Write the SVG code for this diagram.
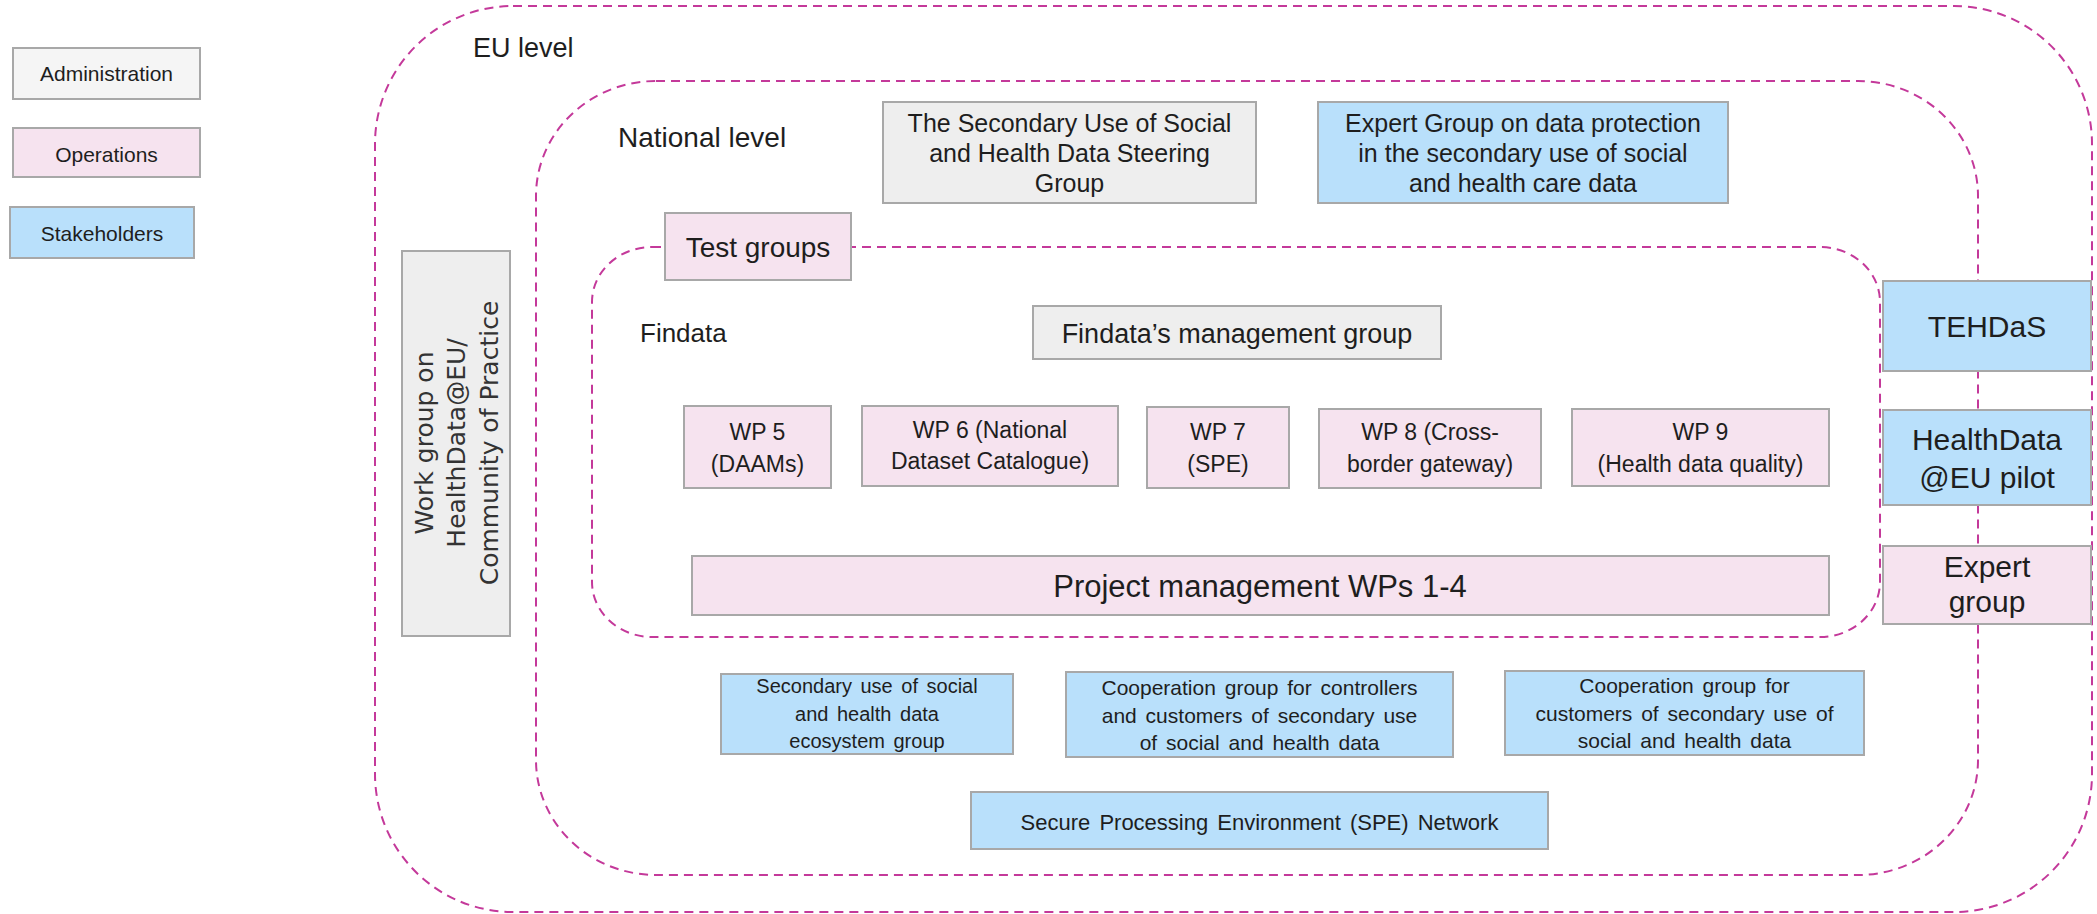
<svg xmlns="http://www.w3.org/2000/svg" width="2097" height="914" viewBox="0 0 2097 914">
<style>
.c{fill:none;stroke:#c4399a;stroke-width:2;stroke-dasharray:9 6}
.b{stroke:#a8a8a8;stroke-width:2}
.adm{fill:#f5f5f5}
.gr{fill:#eeeeee}
.op{fill:#f6e3ef}
.st{fill:#b9e0fb}
text{font-family:"Liberation Sans",Arial,sans-serif;fill:#1e1e1e}
.m{text-anchor:middle}
.v{font-family:"DejaVu Sans",Verdana,sans-serif;fill:#333}
</style>
<rect width="2097" height="914" fill="#ffffff"/>
<g id="containers">
<rect id="eu-level" class="c" x="375" y="6" width="1717" height="906" rx="138" ry="138"/>
<rect id="national-level" class="c" x="536" y="81" width="1442" height="794" rx="120" ry="115"/>
<rect id="findata" class="c" x="592" y="247" width="1288" height="390" rx="60" ry="55"/>
</g>
<g id="labels">
<text x="473" y="57" font-size="27">EU level</text>
<text x="618" y="147" font-size="28">National level</text>
<text x="640" y="342" font-size="26">Findata</text>
</g>
<g id="legend-administration"><rect class="b adm" x="13" y="48" width="187" height="51"/><text class="m" x="106.5" y="81" font-size="21">Administration</text></g>
<g id="legend-operations"><rect class="b op" x="13" y="128" width="187" height="49"/><text class="m" x="106.5" y="162" font-size="21">Operations</text></g>
<g id="legend-stakeholders"><rect class="b st" x="10" y="207" width="184" height="51"/><text class="m" x="102" y="241" font-size="21">Stakeholders</text></g>
<g id="work-group"><rect class="b gr" x="402" y="251" width="108" height="385"/>
<text class="v m" transform="translate(433,443) rotate(-90)" font-size="25"><tspan x="0" y="0">Work group on</tspan><tspan x="0" y="32">HealthData@EU/</tspan><tspan x="0" y="65">Community of Practice</tspan></text></g>
<g id="steering-group"><rect class="b gr" x="883" y="102" width="373" height="101"/>
<text class="m" font-size="25"><tspan x="1069.5" y="132">The Secondary Use of Social</tspan><tspan x="1069.5" y="162">and Health Data Steering</tspan><tspan x="1069.5" y="192">Group</tspan></text></g>
<g id="expert-group-data-protection"><rect class="b st" x="1318" y="102" width="410" height="101"/>
<text class="m" font-size="25"><tspan x="1523" y="132">Expert Group on data protection</tspan><tspan x="1523" y="162">in the secondary use of social</tspan><tspan x="1523" y="192">and health care data</tspan></text></g>
<g id="test-groups"><rect class="b op" x="665" y="213" width="186" height="67"/><text class="m" x="758" y="257" font-size="28">Test groups</text></g>
<g id="findata-management"><rect class="b gr" x="1033" y="306" width="408" height="53"/><text class="m" x="1237" y="343" font-size="27">Findata’s management group</text></g>
<g id="wp5"><rect class="b op" x="684" y="406" width="147" height="82"/><text class="m" font-size="23"><tspan x="757.5" y="440">WP 5</tspan><tspan x="757.5" y="472">(DAAMs)</tspan></text></g>
<g id="wp6"><rect class="b op" x="862" y="406" width="256" height="80"/><text class="m" font-size="23"><tspan x="990" y="438">WP 6 (National</tspan><tspan x="990" y="469">Dataset Catalogue)</tspan></text></g>
<g id="wp7"><rect class="b op" x="1147" y="407" width="142" height="81"/><text class="m" font-size="23"><tspan x="1218" y="440">WP 7</tspan><tspan x="1218" y="472">(SPE)</tspan></text></g>
<g id="wp8"><rect class="b op" x="1319" y="409" width="222" height="79"/><text class="m" font-size="23"><tspan x="1430" y="440">WP 8 (Cross-</tspan><tspan x="1430" y="472">border gateway)</tspan></text></g>
<g id="wp9"><rect class="b op" x="1572" y="409" width="257" height="77"/><text class="m" font-size="23"><tspan x="1700.5" y="440">WP 9</tspan><tspan x="1700.5" y="472">(Health data quality)</tspan></text></g>
<g id="project-management"><rect class="b op" x="692" y="556" width="1137" height="59"/><text class="m" x="1260" y="597" font-size="31">Project management WPs 1-4</text></g>
<g id="tehdas"><rect class="b st" x="1883" y="281" width="208" height="90"/><text class="m" x="1987" y="337" font-size="30">TEHDaS</text></g>
<g id="healthdata-pilot"><rect class="b st" x="1883" y="410" width="208" height="95"/><text class="m" font-size="30"><tspan x="1987" y="450">HealthData</tspan><tspan x="1987" y="488">@EU pilot</tspan></text></g>
<g id="expert-group"><rect class="b op" x="1883" y="546" width="208" height="78"/><text class="m" font-size="30"><tspan x="1987" y="577">Expert</tspan><tspan x="1987" y="612">group</tspan></text></g>
<g id="ecosystem-group"><rect class="b st" x="721" y="674" width="292" height="80"/><text class="m" font-size="20" word-spacing="3"><tspan x="867" y="693">Secondary use of social</tspan><tspan x="867" y="721">and health data</tspan><tspan x="867" y="748">ecosystem group</tspan></text></g>
<g id="controllers-group"><rect class="b st" x="1066" y="672" width="387" height="85"/><text class="m" font-size="21" word-spacing="3"><tspan x="1259.5" y="695">Cooperation group for controllers</tspan><tspan x="1259.5" y="723">and customers of secondary use</tspan><tspan x="1259.5" y="750">of social and health data</tspan></text></g>
<g id="customers-group"><rect class="b st" x="1505" y="671" width="359" height="84"/><text class="m" font-size="21" word-spacing="3"><tspan x="1684.5" y="693">Cooperation group for</tspan><tspan x="1684.5" y="721">customers of secondary use of</tspan><tspan x="1684.5" y="748">social and health data</tspan></text></g>
<g id="spe-network"><rect class="b st" x="971" y="792" width="577" height="57"/><text class="m" x="1259.5" y="830" font-size="22" word-spacing="3">Secure Processing Environment (SPE) Network</text></g>
</svg>
